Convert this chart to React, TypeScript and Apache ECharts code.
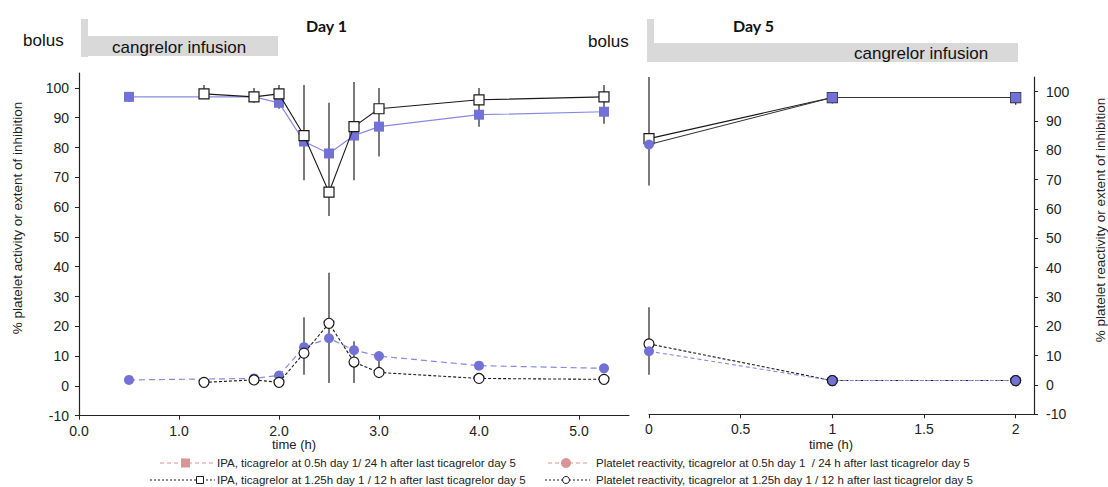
import React, { useEffect, useRef } from "react";
import * as echarts from "echarts";

// ---- Data ----
// Day 1 panel
const leftTimeA = [0.5, 1.75, 2.0, 2.25, 2.5, 2.75, 3.0, 4.0, 5.25];
const leftIpaA = [97, 97, 95, 82, 78, 84, 87, 91, 92];
const leftPrA = [2, 2.5, 3.5, 13, 16, 12, 10, 6.8, 5.9];
const leftTimeB = [1.25, 1.75, 2.0, 2.25, 2.5, 2.75, 3.0, 4.0, 5.25];
const leftIpaB = [98, 97, 98, 84, 65, 87, 93, 96, 97];
const leftPrB = [1.2, 2, 1.2, 11, 21, 8, 4.5, 2.5, 2.2];
// error bars Day 1 : time, low, high
const leftErrTime = [0.5, 1.25, 1.75, 2.0, 2.25, 2.5, 2.75, 3.0, 4.0, 5.25, 2.25, 2.5, 2.75, 3.0];
const leftErrLow = [95.3, 97, 95, 93, 69, 57, 69, 77, 87, 88, 3.7, 1, 1, 3];
const leftErrHigh = [97, 101, 100, 101, 101, 95, 102, 100, 100, 101, 23, 38, 15, 9];

// Day 5 panel
const rightTime = [0, 1, 2];
const rightIpaA = [82, 98, 98];
const rightIpaB = [84, 98, 98];
const rightPrA = [11.5, 1.5, 1.5];
const rightPrB = [14, 1.5, 1.5];
const rightErrTime = [0, 0, 1, 2];
const rightErrLow = [68, 3.5, 96, 95.5];
const rightErrHigh = [105, 26.5, 99.5, 99.5];

// Axis ticks
const leftXTicks = [0, 1, 2, 3, 4, 5];
const rightXTicks = [0, 0.5, 1, 1.5, 2];
const yTicks = [-10, 0, 10, 20, 30, 40, 50, 60, 70, 80, 90, 100];

const legendTexts = [
  "IPA, ticagrelor at 0.5h day 1/ 24 h after last ticagrelor day 5",
  "IPA, ticagrelor at 1.25h day 1 / 12 h after last ticagrelor day 5",
  "Platelet reactivity, ticagrelor at 0.5h day 1  / 24 h after last ticagrelor day 5",
  "Platelet reactivity, ticagrelor at 1.25h day 1 / 12 h after last ticagrelor day 5",
];

const BLUE = "#7272d6";
const BLUE_LINE = "#8888e2";
const DARK = "#1a1a1a";
const PINK = "#d99494";
const FONT = "Liberation Sans, Arial, sans-serif";
const NARROW = "'Liberation Sans Narrow', 'Arial Narrow', 'Liberation Sans', sans-serif";

const zip = (a: number[], b: number[]) => a.map((v, i) => [v, b[i]]);
const zip3 = (a: number[], b: number[], c: number[]) => a.map((v, i) => [v, b[i], c[i]]);

const errRender = (params: any, api: any) => {
  const x = api.value(0);
  const p1 = api.coord([x, api.value(1)]);
  const p2 = api.coord([x, api.value(2)]);
  return {
    type: "line",
    shape: { x1: p1[0], y1: p1[1], x2: p2[0], y2: p2[1] },
    style: { stroke: "#333", lineWidth: 1.3 },
  };
};

const axisCommon = {
  type: "value",
  splitLine: { show: false },
  axisLine: { show: true, onZero: false, lineStyle: { color: "#222", width: 1.2 } },
  axisTick: { show: true, length: 4, lineStyle: { color: "#222" } },
};

const labelCommon = { fontSize: 14, color: "#222", fontFamily: FONT };

export default function App() {
  const ref = useRef<HTMLDivElement>(null);
  useEffect(() => {
    document.body.style.margin = "0";
    const chart = echarts.init(ref.current!, null, { renderer: "svg" });
    const option: any = {
      animation: false,
      grid: [
        { left: 79, top: 73, width: 550, height: 342.7 },
        { left: 649, top: 77, width: 385, height: 337.3 },
      ],
      xAxis: [
        {
          ...axisCommon,
          gridIndex: 0,
          min: 0,
          max: 5.5,
          interval: 1,
          axisTick: { ...axisCommon.axisTick, customValues: leftXTicks },
          axisLabel: {
            ...labelCommon,
            customValues: leftXTicks,
            formatter: (v: number) => v.toFixed(1),
            margin: 8,
          },
        },
        {
          ...axisCommon,
          gridIndex: 1,
          min: 0,
          max: 2.1,
          interval: 0.5,
          axisTick: { ...axisCommon.axisTick, customValues: rightXTicks },
          axisLabel: {
            ...labelCommon,
            customValues: rightXTicks,
            formatter: (v: number) => String(v),
            margin: 8,
          },
        },
      ],
      yAxis: [
        {
          ...axisCommon,
          gridIndex: 0,
          position: "left",
          min: -10,
          max: 105,
          interval: 10,
          axisTick: { ...axisCommon.axisTick, customValues: yTicks },
          axisLabel: {
            ...labelCommon,
            customValues: yTicks,
            margin: 10,
            formatter: (v: number) => (v > 100 ? "" : String(v)),
          },
        },
        {
          ...axisCommon,
          gridIndex: 1,
          position: "right",
          min: -10,
          max: 105,
          interval: 10,
          axisTick: { ...axisCommon.axisTick, customValues: yTicks },
          axisLabel: {
            ...labelCommon,
            customValues: yTicks,
            margin: 12,
            formatter: (v: number) => (v > 100 ? "" : String(v)),
          },
        },
      ],
      series: [
        // ---- Day 1 ----
        {
          type: "custom",
          xAxisIndex: 0,
          yAxisIndex: 0,
          renderItem: errRender,
          encode: { x: 0, y: [1, 2] },
          data: zip3(leftErrTime, leftErrLow, leftErrHigh),
          z: 1,
        },
        {
          name: legendTexts[0],
          type: "line",
          xAxisIndex: 0,
          yAxisIndex: 0,
          data: zip(leftTimeA, leftIpaA),
          symbol: "rect",
          symbolSize: 10,
          lineStyle: { color: BLUE_LINE, width: 1.2 },
          itemStyle: { color: BLUE },
          z: 2,
        },
        {
          name: legendTexts[2],
          type: "line",
          xAxisIndex: 0,
          yAxisIndex: 0,
          data: zip(leftTimeA, leftPrA),
          symbol: "circle",
          symbolSize: 10,
          lineStyle: { color: BLUE_LINE, width: 1.2, type: [6, 4] },
          itemStyle: { color: BLUE },
          z: 2,
        },
        {
          name: legendTexts[1],
          type: "line",
          xAxisIndex: 0,
          yAxisIndex: 0,
          data: zip(leftTimeB, leftIpaB),
          symbol: "rect",
          symbolSize: 10,
          lineStyle: { color: DARK, width: 1.1 },
          itemStyle: { color: "#fff", borderColor: DARK, borderWidth: 1.2 },
          z: 3,
        },
        {
          name: legendTexts[3],
          type: "line",
          xAxisIndex: 0,
          yAxisIndex: 0,
          data: zip(leftTimeB, leftPrB),
          symbol: "circle",
          symbolSize: 10,
          lineStyle: { color: DARK, width: 1.1, type: [3, 2] },
          itemStyle: { color: "#fff", borderColor: DARK, borderWidth: 1.2 },
          z: 3,
        },
        // ---- Day 5 ----
        {
          type: "custom",
          xAxisIndex: 1,
          yAxisIndex: 1,
          renderItem: errRender,
          encode: { x: 0, y: [1, 2] },
          data: zip3(rightErrTime, rightErrLow, rightErrHigh),
          z: 1,
        },
        {
          type: "line",
          xAxisIndex: 1,
          yAxisIndex: 1,
          data: zip(rightTime, rightIpaB),
          symbol: "rect",
          symbolSize: 10,
          lineStyle: { color: DARK, width: 1.1 },
          itemStyle: { color: "#fff", borderColor: DARK, borderWidth: 1.2 },
          z: 2,
        },
        {
          type: "line",
          xAxisIndex: 1,
          yAxisIndex: 1,
          data: rightTime.map((t, i) =>
            i === 0 ? { value: [t, rightIpaA[i]], symbol: "circle" } : [t, rightIpaA[i]]
          ),
          symbol: "rect",
          symbolSize: 10,
          lineStyle: { color: "#333", width: 1.1 },
          itemStyle: { color: BLUE },
          z: 3,
        },
        {
          type: "line",
          xAxisIndex: 1,
          yAxisIndex: 1,
          data: zip(rightTime, rightPrB),
          symbol: "circle",
          symbolSize: 10,
          lineStyle: { color: DARK, width: 1.1, type: [3, 2] },
          itemStyle: { color: "#fff", borderColor: DARK, borderWidth: 1.2 },
          z: 2,
        },
        {
          type: "line",
          xAxisIndex: 1,
          yAxisIndex: 1,
          data: rightTime.map((t, i) =>
            i === 0
              ? [t, rightPrA[i]]
              : { value: [t, rightPrA[i]], itemStyle: { borderColor: DARK, borderWidth: 1.2 } }
          ),
          symbol: "circle",
          symbolSize: 10,
          lineStyle: { color: BLUE_LINE, width: 1.1, type: [4, 3] },
          itemStyle: { color: BLUE },
          z: 3,
        },
      ],
      graphic: [
        // header Day 1
        { type: "rect", shape: { x: 81, y: 19, width: 7, height: 38 }, style: { fill: "#d9d9d9" } },
        { type: "rect", shape: { x: 81, y: 36, width: 197, height: 20 }, style: { fill: "#d9d9d9" } },
        { type: "text", x: 23, y: 40, style: { text: "bolus", font: `17px ${FONT}`, fill: "#111", textAlign: "left", textVerticalAlign: "middle" } },
        { type: "text", x: 112, y: 47, style: { text: "cangrelor infusion", font: `17px ${FONT}`, fill: "#111", textAlign: "left", textVerticalAlign: "middle" } },
        { type: "text", x: 306, y: 25, style: { text: "Day 1", font: `bold 16px Lato, 'Open Sans', sans-serif`, fill: "#111", textAlign: "left", textVerticalAlign: "middle" } },
        // header Day 5
        { type: "rect", shape: { x: 647, y: 19, width: 7, height: 43 }, style: { fill: "#d9d9d9" } },
        { type: "rect", shape: { x: 647, y: 43, width: 371, height: 19 }, style: { fill: "#d9d9d9" } },
        { type: "text", x: 588, y: 41, style: { text: "bolus", font: `17px ${FONT}`, fill: "#111", textAlign: "left", textVerticalAlign: "middle" } },
        { type: "text", x: 854, y: 53, style: { text: "cangrelor infusion", font: `17px ${FONT}`, fill: "#111", textAlign: "left", textVerticalAlign: "middle" } },
        { type: "text", x: 733, y: 25, style: { text: "Day 5", font: `bold 16px Lato, 'Open Sans', sans-serif`, fill: "#111", textAlign: "left", textVerticalAlign: "middle" } },
        // axis names
        { type: "text", x: 17, y: 218, rotation: Math.PI / 2, style: { text: "% platelet activity or extent of inhibition", font: `13.5px ${FONT}`, fill: "#222", textAlign: "center", textVerticalAlign: "middle" } },
        { type: "text", x: 1100, y: 220, rotation: Math.PI / 2, style: { text: "% platelet reactivity or extent of inhibition", font: `13.5px ${FONT}`, fill: "#222", textAlign: "center", textVerticalAlign: "middle" } },
        { type: "text", x: 294, y: 444, style: { text: "time (h)", font: `13px ${FONT}`, fill: "#222", textAlign: "center", textVerticalAlign: "middle" } },
        { type: "text", x: 831, y: 444, style: { text: "time (h)", font: `13px ${FONT}`, fill: "#222", textAlign: "center", textVerticalAlign: "middle" } },
        // legend row 1 left
        { type: "line", shape: { x1: 160, y1: 463, x2: 213, y2: 463 }, style: { stroke: PINK, lineWidth: 1.2, lineDash: [4, 3] } },
        { type: "rect", shape: { x: 181, y: 458.5, width: 9, height: 9 }, style: { fill: PINK } },
        { type: "text", x: 217, y: 463, style: { text: legendTexts[0], font: `11.5px ${NARROW}`, fill: "#222", textAlign: "left", textVerticalAlign: "middle" } },
        // legend row 2 left
        { type: "line", shape: { x1: 150, y1: 480, x2: 215, y2: 480 }, style: { stroke: DARK, lineWidth: 1, lineDash: [2, 2] } },
        { type: "rect", shape: { x: 196.5, y: 476.5, width: 7, height: 7 }, style: { fill: "#fff", stroke: DARK, lineWidth: 1 } },
        { type: "text", x: 217, y: 480, style: { text: legendTexts[1], font: `11.5px ${NARROW}`, fill: "#222", textAlign: "left", textVerticalAlign: "middle" } },
        // legend row 1 right
        { type: "line", shape: { x1: 548, y1: 463, x2: 590, y2: 463 }, style: { stroke: PINK, lineWidth: 1.2, lineDash: [4, 3] } },
        { type: "circle", shape: { cx: 566, cy: 463, r: 5 }, style: { fill: PINK } },
        { type: "text", x: 596, y: 463, style: { text: legendTexts[2], font: `11.5px ${NARROW}`, fill: "#222", textAlign: "left", textVerticalAlign: "middle" } },
        // legend row 2 right
        { type: "line", shape: { x1: 545, y1: 480, x2: 590, y2: 480 }, style: { stroke: DARK, lineWidth: 1, lineDash: [2, 2] } },
        { type: "circle", shape: { cx: 566, cy: 480, r: 3.5 }, style: { fill: "#fff", stroke: DARK, lineWidth: 1 } },
        { type: "text", x: 596, y: 480, style: { text: legendTexts[3], font: `11.5px ${NARROW}`, fill: "#222", textAlign: "left", textVerticalAlign: "middle" } },
      ],
    };
    chart.setOption(option);
    return () => chart.dispose();
  }, []);
  return <div ref={ref} style={{ width: 1108, height: 487 }} />;
}
